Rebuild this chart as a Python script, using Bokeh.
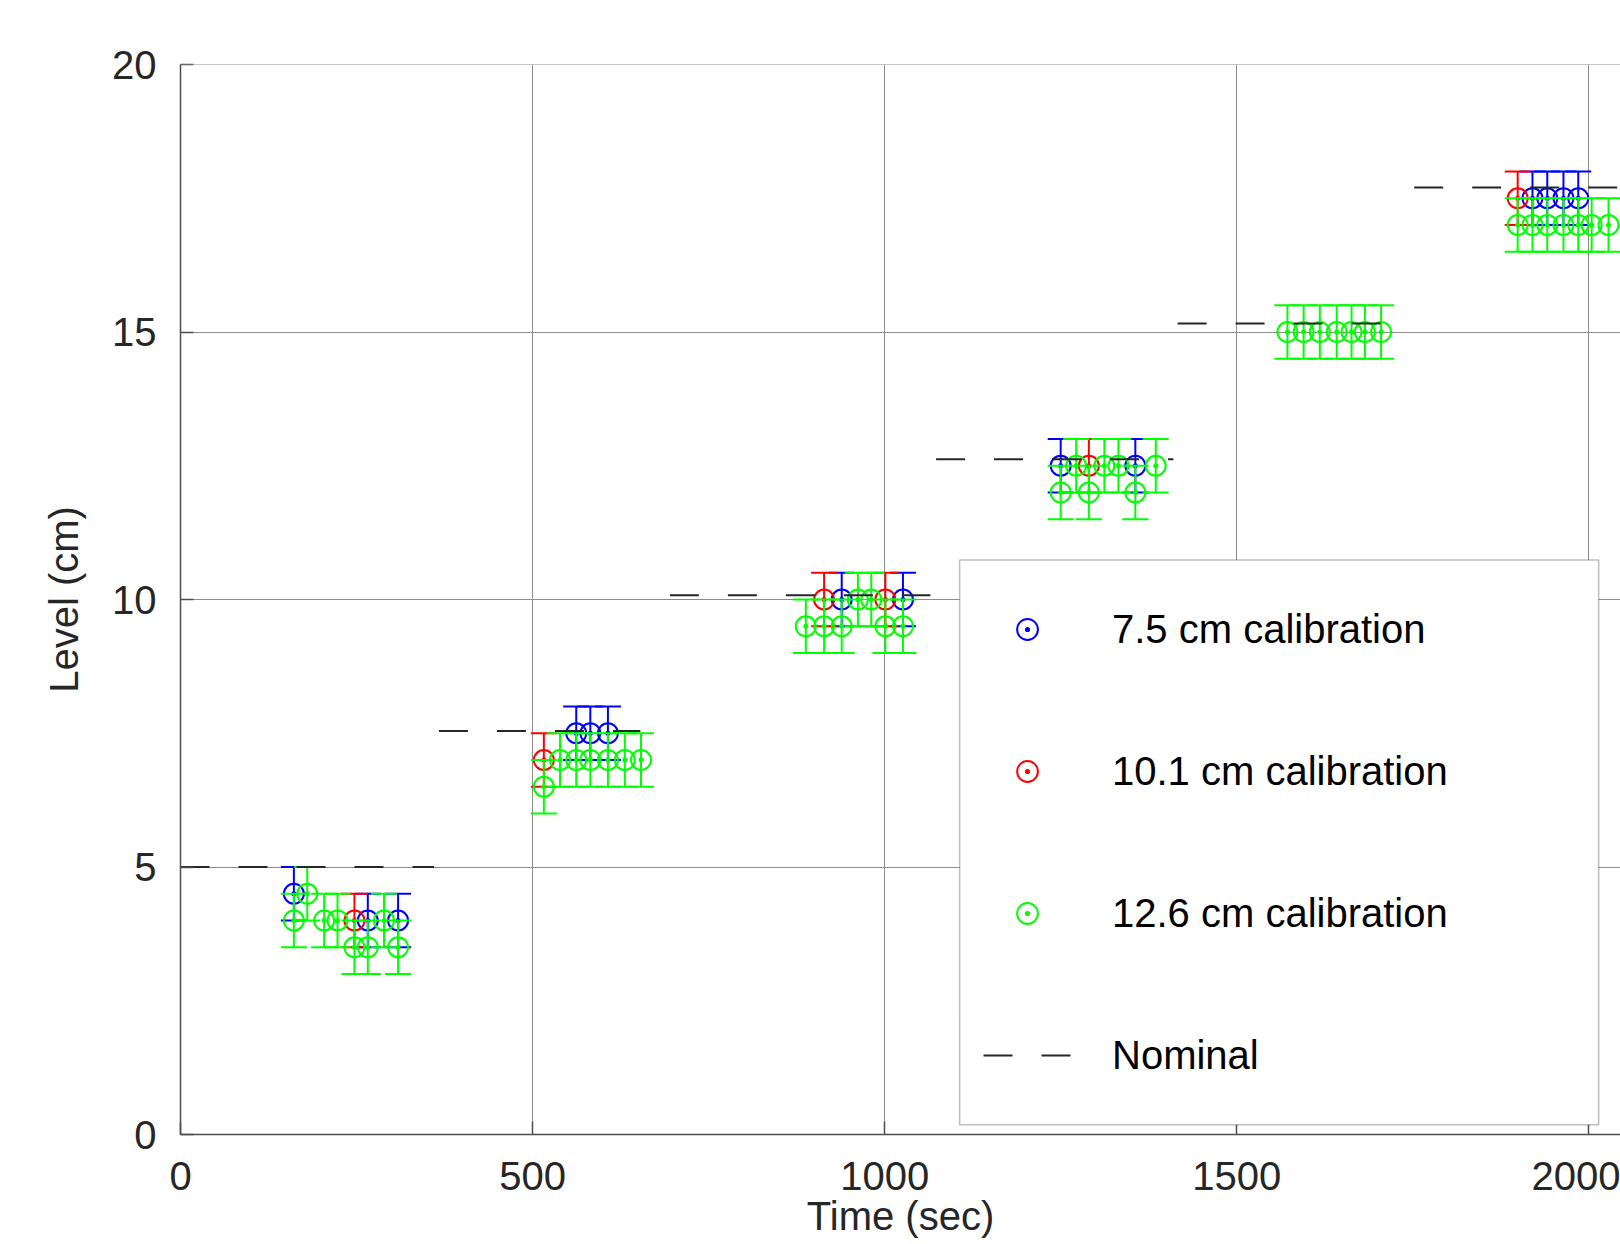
from bokeh.plotting import figure
from bokeh.models import Range1d, FixedTicker, Legend, LegendItem, BoxAnnotation, Span
from bokeh.embed import file_html
from bokeh.resources import INLINE

# ---------------- data ----------------
ERR = 0.5  # half-height of each error bar (cm)

blue_t = [161, 266, 309, 562, 582, 607, 939, 1026, 1250, 1356, 1920, 1941, 1964, 1985]
blue_y = [4.5, 4.0, 4.0, 7.5, 7.5, 7.5, 10.0, 10.0, 12.5, 12.5, 17.5, 17.5, 17.5, 17.5]

red_t = [247, 516, 914, 1001, 1290, 1899]
red_y = [4.0, 7.0, 10.0, 10.0, 12.5, 17.5]

green_t = [161, 180, 204, 223, 247, 266, 289, 309,
           516, 539, 562, 582, 607, 631, 654,
           888, 914, 939, 962, 981, 1001, 1026,
           1250, 1272, 1290, 1312, 1332, 1356, 1385,
           1572, 1595, 1618, 1642, 1663, 1682, 1705,
           1899, 1920, 1941, 1964, 1985, 2004, 2028]
green_y = [4.0, 4.5, 4.0, 4.0, 3.5, 3.5, 4.0, 3.5,
           6.5, 7.0, 7.0, 7.0, 7.0, 7.0, 7.0,
           9.5, 9.5, 9.5, 10.0, 10.0, 9.5, 9.5,
           12.0, 12.5, 12.0, 12.5, 12.5, 12.0, 12.5,
           15.0, 15.0, 15.0, 15.0, 15.0, 15.0, 15.0,
           17.0, 17.0, 17.0, 17.0, 17.0, 17.0, 17.0]

nominal_level = [5.0, 7.54, 10.08, 12.62, 15.16, 17.70]
nominal_start = [0, 367, 695, 1073, 1416, 1752]
nominal_end = [360, 653, 1065, 1410, 1744, 2100]

x_ticks = [0, 500, 1000, 1500, 2000]
y_ticks = [0, 5, 10, 15, 20]

labels = ["7.5 cm calibration", "10.1 cm calibration", "12.6 cm calibration", "Nominal"]

# ---------------- figure ----------------
FONT = "Liberation Sans"
TXT = "#262626"

p = figure(width=1620, height=1240,
           x_range=Range1d(0, 2045), y_range=Range1d(0, 20),
           output_backend="svg", toolbar_location=None,
           min_border_left=180, min_border_right=0,
           min_border_top=64, min_border_bottom=106)
p.outline_line_color = None
p.background_fill_color = "white"
p.border_fill_color = "white"

p.xaxis.ticker = FixedTicker(ticks=x_ticks)
p.yaxis.ticker = FixedTicker(ticks=y_ticks)
p.xgrid.ticker = FixedTicker(ticks=x_ticks)
p.ygrid.ticker = FixedTicker(ticks=y_ticks)
for g in (p.xgrid[0], p.ygrid[0]):
    g.grid_line_color = "#8c8c8c"
    g.grid_line_width = 1

# top edge of the axes box
p.add_layout(Span(location=20, dimension="width", line_color="#8c8c8c", line_width=1))

p.xaxis.axis_label = "Time (sec)"
p.yaxis.axis_label = "Level (cm)"
for ax in (p.xaxis[0], p.yaxis[0]):
    ax.major_tick_in = 13
    ax.major_tick_out = 0
    ax.minor_tick_line_color = None
    ax.axis_line_color = "#4d4d4d"
    ax.axis_line_width = 1.5
    ax.major_tick_line_color = "#4d4d4d"
    ax.major_tick_line_width = 1.5
    ax.major_label_text_font = FONT
    ax.major_label_text_font_size = "40px"
    ax.major_label_text_color = TXT
    ax.axis_label_text_font = FONT
    ax.axis_label_text_font_size = "40px"
    ax.axis_label_text_font_style = "normal"
    ax.axis_label_text_color = TXT
p.xaxis.major_label_standoff = 27
p.xaxis.axis_label_standoff = 1
p.yaxis.major_label_standoff = 24
p.yaxis.axis_label_standoff = 23


def draw_series(t, y, color):
    lo = [v - ERR for v in y]
    hi = [v + ERR for v in y]
    p.segment(x0=t, y0=lo, x1=t, y1=hi, line_color=color, line_width=2)
    p.scatter(x=t + t, y=lo + hi, marker="dash", size=26,
              line_color=color, line_width=2)
    return p.scatter(x=t, y=y, marker="circle_dot", size=20,
                     line_color=color, fill_color=None, line_width=2)


r_blue = draw_series(blue_t, blue_y, "#0000ff")
r_red = draw_series(red_t, red_y, "#ff0000")
r_green = draw_series(green_t, green_y, "#00ff00")

r_nom = p.multi_line(xs=[[s, e] for s, e in zip(nominal_start, nominal_end)],
                     ys=[[l, l] for l in nominal_level],
                     line_color="#262626", line_width=2, line_dash="29 29")

# legend frame (opaque box) then legend entries
box = BoxAnnotation(left=1106.5, right=2014, bottom=0.18, top=10.74,
                    fill_color="white", fill_alpha=1.0,
                    line_color="#262626", line_width=1.5)
p.add_layout(box)

legend = Legend(items=[LegendItem(label=labels[0], renderers=[r_blue]),
                       LegendItem(label=labels[1], renderers=[r_red]),
                       LegendItem(label=labels[2], renderers=[r_green]),
                       LegendItem(label=labels[3], renderers=[r_nom])],
                location=(803, 53), orientation="vertical",
                padding=0, margin=0, spacing=90,
                glyph_width=88, glyph_height=52, label_standoff=41,
                label_text_font=FONT, label_text_font_size="40px",
                label_text_color="#000000",
                background_fill_alpha=0, border_line_alpha=0)
p.add_layout(legend)

open("out.html", "w").write(file_html(p, INLINE))
